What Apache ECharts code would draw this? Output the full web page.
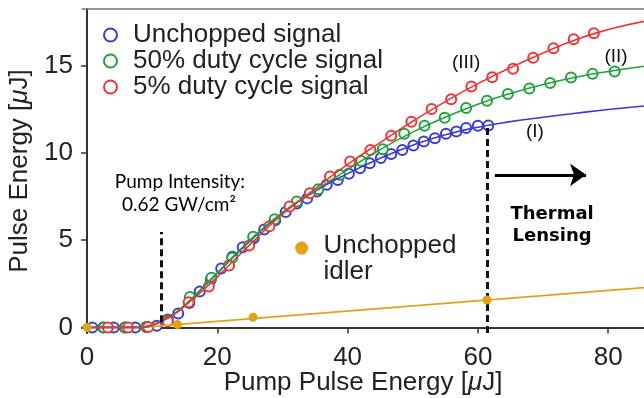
<!DOCTYPE html>
<html><head><meta charset="utf-8">
<script src="https://cdn.jsdelivr.net/npm/echarts@6/dist/echarts.min.js"></script>
<style>html,body{margin:0;padding:0;background:#fff}#c{width:644px;height:398px}</style>
</head><body><div id="c"></div>
<script>
const xTicks = [0, 20, 40, 60, 80];
const yTicks = [0, 5, 10, 15];

const blueX = [0.8, 2.5, 4.1, 5.8, 7.4, 9.1, 10.7, 12.4, 14.0, 15.7, 17.3, 19.0, 20.6, 22.3, 23.9, 25.6, 27.2, 28.9, 30.5, 32.2, 33.8, 35.3, 36.8, 38.5, 40.2, 41.9, 43.4, 45.1, 46.7, 48.4, 50.1, 51.7, 53.4, 55.1, 56.7, 58.2, 60.0, 61.6];
const blueY = [0, 0, 0, 0, 0, 0.02, 0.1, 0.45, 0.8, 1.4, 2.06, 2.75, 3.38, 4.05, 4.6, 5.12, 5.62, 6.15, 6.62, 7.1, 7.4, 7.8, 8.18, 8.46, 8.81, 9.13, 9.42, 9.71, 9.95, 10.18, 10.43, 10.66, 10.85, 11.1, 11.23, 11.43, 11.56, 11.58];

const greenX = [2.6, 5.9, 9.1, 12.4, 15.8, 19.1, 22.3, 25.5, 28.8, 32.2, 35.5, 38.8, 42.1, 45.4, 48.7, 51.8, 54.9, 58.2, 61.4, 64.6, 67.9, 71.1, 74.3, 77.6, 81.0];
const greenY = [0, 0, 0.02, 0.4, 1.75, 2.85, 4.0, 5.2, 6.2, 7.22, 7.93, 8.75, 9.55, 10.22, 11.1, 11.56, 12.03, 12.58, 13.0, 13.38, 13.7, 14.01, 14.33, 14.54, 14.67];

const redX = [3.2, 6.3, 9.4, 12.4, 15.6, 18.7, 21.8, 24.9, 28.0, 31.1, 34.2, 37.3, 40.4, 43.5, 46.7, 49.8, 52.9, 55.9, 59.0, 62.2, 65.4, 68.5, 71.6, 74.7, 77.8];
const redY = [0, 0, 0.03, 0.35, 1.45, 2.35, 3.55, 4.7, 5.8, 6.93, 7.7, 8.65, 9.51, 10.18, 10.99, 11.8, 12.52, 13.09, 13.81, 14.35, 14.83, 15.47, 16.01, 16.53, 16.87];

const fitX = [-0.77, 8, 9, 10, 11, 12, 13, 14, 16, 18, 20, 25, 30, 35, 40, 45, 50, 55, 60, 65, 70, 75, 80, 85.5];
const blueFit = [0, 0, 0.03, 0.12, 0.27, 0.47, 0.7, 0.95, 1.6, 2.35, 3.1, 4.95, 6.55, 7.8, 8.82, 9.7, 10.45, 11.05, 11.48, 11.8, 12.05, 12.28, 12.5, 12.7];
const greenFit = [0, 0, 0.03, 0.12, 0.27, 0.47, 0.7, 0.95, 1.62, 2.38, 3.13, 5.0, 6.6, 7.85, 9.05, 10.2, 11.2, 12.05, 12.8, 13.42, 13.93, 14.35, 14.68, 14.98];
const redFit = [0, 0, 0.05, 0.15, 0.29, 0.45, 0.66, 0.9, 1.55, 2.2, 2.9, 4.75, 6.5, 7.95, 9.35, 10.6, 11.82, 12.95, 13.98, 14.9, 15.74, 16.5, 17.08, 17.55];

const idlerX = [0, 13.9, 25.5, 61.4];
const idlerY = [0, 0.17, 0.58, 1.57];
const idlerFitX = [8.3, 85.5];
const idlerFitY = [0, 2.28];
const idlerKey = [32.95, 4.55];

const dash1 = [[11.36, 0.3], [11.36, 5.47]];
const dash2 = [[61.5, -0.32], [61.5, 11.5]];
const arrow = [[62.6, 8.75], [76.6, 8.75]];

const annotTexts = ['Pump Intensity:', '0.62 GW/cm²', 'Thermal', 'Lensing', '(III)', '(II)', '(I)', 'Unchopped', 'idler'];
const annotPos = [[14.27, 8.35], [14.1, 7.02], [71.4, 6.5], [71.4, 5.2], [58.2, 15.17], [81.2, 15.51], [68.75, 11.21], [36.3, 4.68], [36.3, 3.19]];

const BLUE = '#3b3bd0', GREEN = '#1fa33a', RED = '#ec3535', GOLD = '#e2a217';
const FONT = 'Liberation Sans';
const zip = (a, b) => a.map((v, i) => [v, b[i]]);

const annotStyles = [
  {fontFamily: 'Lato', fontSize: 19, color: '#000', align: 'center'},
  {fontFamily: 'Lato', fontSize: 19, color: '#000', align: 'center'},
  {fontFamily: 'DejaVu Sans', fontSize: 18, fontWeight: 'bold', color: '#000', align: 'center'},
  {fontFamily: 'DejaVu Sans', fontSize: 18, fontWeight: 'bold', color: '#000', align: 'center'},
  {fontFamily: FONT, fontSize: 19, color: '#111', align: 'center'},
  {fontFamily: FONT, fontSize: 19, color: '#111', align: 'center'},
  {fontFamily: FONT, fontSize: 19, color: '#111', align: 'center'},
  {fontFamily: FONT, fontSize: 26, color: '#222', align: 'left'},
  {fontFamily: FONT, fontSize: 26, color: '#222', align: 'left'}
];

const chart = echarts.init(document.getElementById('c'), null, {renderer: 'canvas'});
const scatterBase = (name, color, data) => ({
  name, type: 'scatter', data, symbol: 'emptyCircle', symbolSize: 10,
  itemStyle: {color, borderColor: color, borderWidth: 1.3, opacity: 1}, z: 3
});
const fitLine = (color, data) => ({
  type: 'line', data, smooth: 0.5, showSymbol: false, symbol: 'none',
  lineStyle: {color, width: 1.6}, z: 4, silent: true
});
const axisNameRich = {i: {fontStyle: 'italic', fontSize: 26, lineHeight: 26, fontFamily: FONT, color: '#222'}};

chart.setOption({
  animation: false,
  backgroundColor: '#fff',
  grid: {left: 82, right: 0, top: 9, bottom: 65, outerBoundsMode: 'none', containLabel: false},
  legend: {
    orient: 'vertical', left: 103, top: 22, padding: 0, itemWidth: 13, itemHeight: 13, itemGap: 0,
    data: ['Unchopped signal', '50% duty cycle signal', '5% duty cycle signal'],
    textStyle: {fontFamily: FONT, fontSize: 26, lineHeight: 26, color: '#222', padding: [0, 0, 0, 11]},
    selectedMode: false
  },
  xAxis: [{
    type: 'value', min: -0.77, max: 85.5,
    axisLine: {lineStyle: {color: '#333', width: 2}},
    axisTick: {show: true, customValues: xTicks, length: 6, lineStyle: {color: '#333', width: 1.5}},
    axisLabel: {customValues: xTicks, fontFamily: FONT, fontSize: 26, color: '#222', margin: 12},
    splitLine: {show: false},
    name: 'Pump Pulse Energy [{i|μ}J]', nameLocation: 'middle', nameGap: 37, nameMoveOverlap: false,
    nameTextStyle: {fontFamily: FONT, fontSize: 26, lineHeight: 26, color: '#222', rich: axisNameRich}
  }, {
    type: 'value', position: 'top', min: -0.77, max: 85.5,
    axisLine: {show: true, lineStyle: {color: '#777', width: 1.5}},
    axisTick: {show: false}, axisLabel: {show: false}, splitLine: {show: false}
  }],
  yAxis: {
    type: 'value', min: -0.32, max: 18.26,
    axisLine: {show: true, lineStyle: {color: '#333', width: 2}},
    axisTick: {show: true, customValues: yTicks, length: 6, lineStyle: {color: '#333', width: 1.5}},
    axisLabel: {customValues: yTicks, fontFamily: FONT, fontSize: 26, color: '#222', margin: 9},
    splitLine: {show: false},
    name: 'Pulse Energy [{i|μ}J]', nameLocation: 'middle', nameGap: 47,
    nameTextStyle: {fontFamily: FONT, fontSize: 26, lineHeight: 26, color: '#222', rich: axisNameRich}
  },
  series: [
    fitLine(GOLD, zip(idlerFitX, idlerFitY)),
    {type: 'scatter', data: zip(idlerX, idlerY), symbol: 'circle', symbolSize: 9, itemStyle: {color: GOLD, opacity: 1}, z: 5, silent: true},
    {type: 'scatter', data: [idlerKey], symbol: 'circle', symbolSize: 13, itemStyle: {color: GOLD, opacity: 1}, z: 5, silent: true},
    scatterBase('Unchopped signal', BLUE, zip(blueX, blueY)),
    scatterBase('50% duty cycle signal', GREEN, zip(greenX, greenY)),
    scatterBase('5% duty cycle signal', RED, zip(redX, redY)),
    fitLine(BLUE, zip(fitX, blueFit)),
    fitLine(GREEN, zip(fitX, greenFit)),
    fitLine(RED, zip(fitX, redFit)),
    {
      type: 'line', data: [], silent: true,
      markLine: {
        silent: true, symbol: 'none', animation: false, label: {show: false},
        lineStyle: {color: '#111', width: 3, type: [7, 4]},
        data: [
          [{coord: dash1[0]}, {coord: dash1[1]}],
          [{coord: dash2[0]}, {coord: dash2[1]}]
        ]
      }
    },
    {
      type: 'line', data: [], silent: true,
      markLine: {
        silent: true, symbol: ['none', 'arrow'], symbolSize: [17, 16], animation: false, label: {show: false},
        lineStyle: {color: '#000', width: 3, type: 'solid'},
        data: [[{coord: arrow[0]}, {coord: arrow[1]}]]
      }
    },
    {
      type: 'scatter', symbolSize: 0, silent: true, z: 6,
      itemStyle: {opacity: 1},
      data: annotTexts.map((t, i) => ({
        value: annotPos[i],
        label: Object.assign({show: true, position: 'inside', formatter: t, verticalAlign: 'middle', opacity: 1}, annotStyles[i])
      }))
    }
  ]
});
</script></body></html>
